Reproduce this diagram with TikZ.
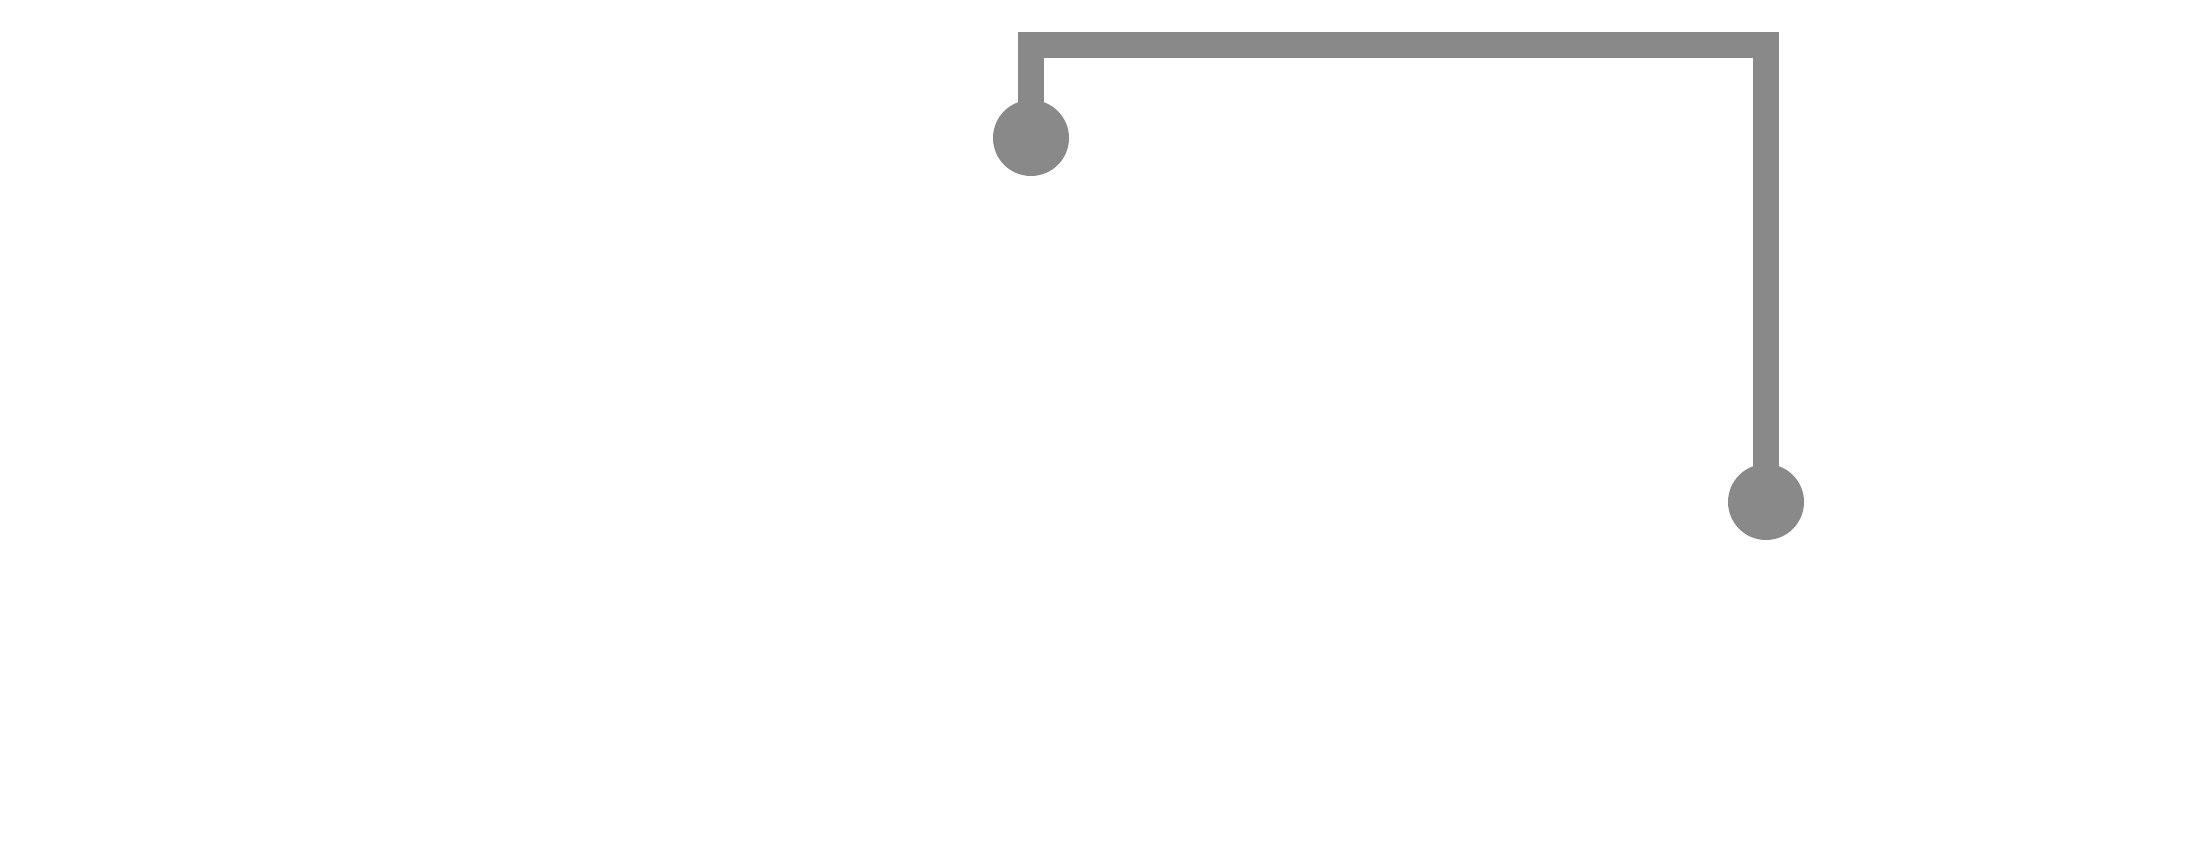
\documentclass[tikz,border=0pt]{standalone}
\usepackage{xcolor}
\usepackage{tikz}
\usetikzlibrary{positioning}
\definecolor{wiregray}{RGB}{137,137,137}
\tikzset{
        pin/.style={circle, fill=wiregray, inner sep=0pt, minimum size=0.76cm},
        wire/.style={draw=wiregray, line width=0.26cm, line join=miter},
    }
\begin{document}
\begin{tikzpicture}
        \useasboundingbox (0,0) rectangle (21.97,8.55);

        % Pins
        \node[pin] (pinA) at (10.31,7.17) {};
        \node[pin] (pinB) at (17.66,3.53) {};

        % Connector
        \coordinate (bend) at (10.31,8.095);
        \draw[wire] (pinA.center) -- (bend) -| (pinB.center);
\end{tikzpicture}
\end{document}
